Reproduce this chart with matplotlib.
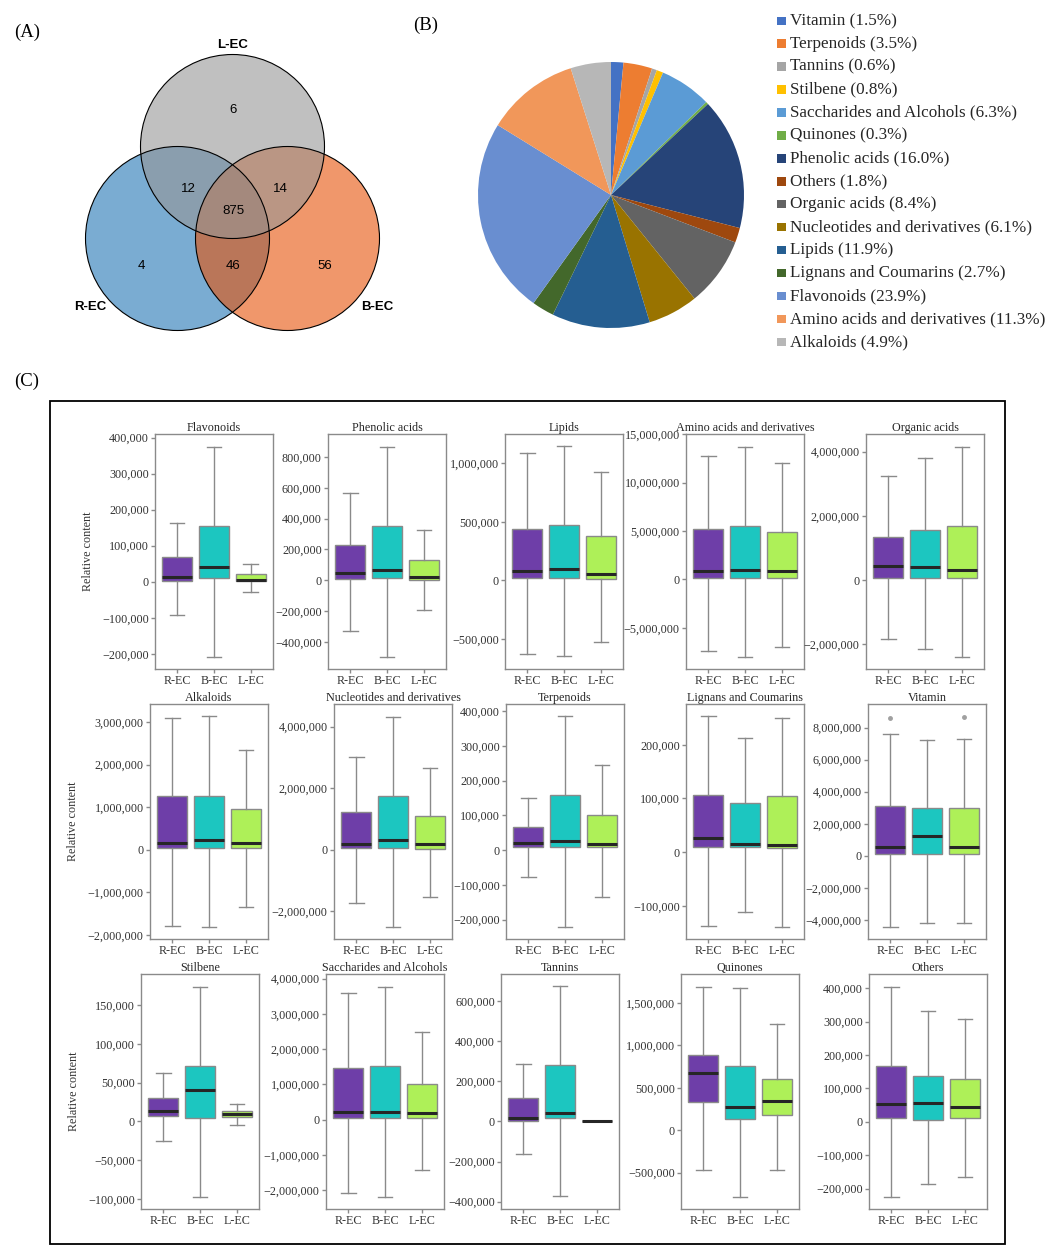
import numpy as np
import matplotlib
matplotlib.use('Agg')
import matplotlib.pyplot as plt
from matplotlib.patches import Circle, Rectangle
from matplotlib.ticker import FuncFormatter, MultipleLocator

# ---------------- data ----------------
venn_names = ['R-EC', 'B-EC', 'L-EC']
venn_regions = ['R', 'B', 'L', 'RL', 'LB', 'RB', 'RBL']
venn_counts = [4, 56, 6, 12, 14, 46, 875]

pie_labels = ['Vitamin', 'Terpenoids', 'Tannins', 'Stilbene', 'Saccharides and Alcohols',
              'Quinones', 'Phenolic acids', 'Others', 'Organic acids',
              'Nucleotides and derivatives', 'Lipids', 'Lignans and Coumarins',
              'Flavonoids', 'Amino acids and derivatives', 'Alkaloids']
pie_pct = [1.5, 3.5, 0.6, 0.8, 6.3, 0.3, 16.0, 1.8, 8.4, 6.1, 11.9, 2.7, 23.9, 11.3, 4.9]
pie_colors = ['#4472C4', '#ED7D31', '#A5A5A5', '#FFC000', '#5B9BD5', '#70AD47', '#264478',
              '#9E480E', '#636363', '#997300', '#255E91', '#43682B', '#698ED0', '#F1975A',
              '#B7B7B7']

groups = ['R-EC', 'B-EC', 'L-EC']
box_classes = ['Flavonoids', 'Phenolic acids', 'Lipids', 'Amino acids and derivatives',
               'Organic acids', 'Alkaloids', 'Nucleotides and derivatives', 'Terpenoids',
               'Lignans and Coumarins', 'Vitamin', 'Stilbene', 'Saccharides and Alcohols',
               'Tannins', 'Quinones', 'Others']
whishi = [[164e3, 375e3, 50e3], [568.6e3, 867e3, 328.6e3], [1088e3, 1145e3, 923e3],
          [12.77e6, 13.70e6, 12.01e6], [3.24e6, 3.80e6, 4.15e6], [3.08e6, 3.13e6, 2.34e6],
          [3.01e6, 4.32e6, 2.66e6], [151e3, 387e3, 244e3], [253e3, 212e3, 249e3],
          [7.59e6, 7.24e6, 7.28e6], [62.6e3, 173e3, 23e3], [3.60e6, 3.76e6, 2.48e6],
          [285e3, 676e3, 0], [1.687e6, 1.675e6, 1.252e6], [404e3, 331e3, 308e3]]
q3 = [[67.6e3, 155.6e3, 21.3e3], [231.4e3, 354.6e3, 131.9e3], [443e3, 472e3, 378e3],
      [5.20e6, 5.54e6, 4.85e6], [1.34e6, 1.57e6, 1.69e6], [1.25e6, 1.27e6, 0.95e6],
      [1.23e6, 1.76e6, 1.09e6], [66e3, 158e3, 102e3], [107e3, 91e3, 104e3],
      [3.08e6, 2.97e6, 2.97e6], [29.6e3, 71.6e3, 13.3e3], [1.47e6, 1.53e6, 1.01e6],
      [116e3, 282e3, 0], [0.881e6, 0.751e6, 0.607e6], [168e3, 136e3, 129e3]]
med = [[13e3, 41.7e3, 5.6e3], [45.4e3, 64.9e3, 23.8e3], [82e3, 97e3, 57e3],
       [0.83e6, 0.96e6, 0.83e6], [0.44e6, 0.42e6, 0.32e6], [0.17e6, 0.22e6, 0.15e6],
       [0.20e6, 0.31e6, 0.20e6], [20e3, 26e3, 19e3], [27e3, 15.5e3, 14e3],
       [0.56e6, 1.21e6, 0.54e6], [14e3, 40.7e3, 9.9e3], [0.21e6, 0.22e6, 0.19e6],
       [18e3, 40e3, 0], [0.673e6, 0.270e6, 0.348e6], [55e3, 56e3, 44e3]]
q1 = [[2.8e3, 10.2e3, 1.9e3], [6.5e3, 17.3e3, 2.2e3], [17e3, 23e3, 14e3],
      [0.14e6, 0.14e6, 0.10e6], [0.06e6, 0.07e6, 0.06e6], [0.04e6, 0.05e6, 0.04e6],
      [0.05e6, 0.05e6, 0.03e6], [9e3, 8e3, 8e3], [10e3, 10e3, 7e3],
      [0.08e6, 0.08e6, 0.10e6], [7.3e3, 3.9e3, 6e3], [0.05e6, 0.05e6, 0.04e6],
      [2e3, 17e3, 0], [0.337e6, 0.137e6, 0.176e6], [11e3, 7e3, 12e3]]
whislo = [[-93.5e3, -208.3e3, -28.7e3], [-328.6e3, -495.1e3, -192.4e3], [-628e3, -648e3, -528e3],
          [-7.43e6, -8.02e6, -7.02e6], [-1.83e6, -2.15e6, -2.39e6], [-1.79e6, -1.81e6, -1.35e6],
          [-1.72e6, -2.50e6, -1.54e6], [-76e3, -220e3, -135e3], [-137e3, -112e3, -139e3],
          [-4.43e6, -4.22e6, -4.22e6], [-25.7e3, -97.7e3, -4.3e3], [-2.09e6, -2.20e6, -1.43e6],
          [-163e3, -373e3, 0], [-0.470e6, -0.787e6, -0.474e6], [-225e3, -187e3, -165e3]]
fliers = {'Vitamin': [[8.59e6], [], [8.67e6]]}

# ---------------- layout ----------------
W, H = 1049, 1246
fig = plt.figure(figsize=(W / 100, H / 100), dpi=100)
SERIF = ['Liberation Serif', 'DejaVu Serif']
SANS = ['Liberation Sans', 'DejaVu Sans']

def px_axes(left, top, width, height, **kw):
    return fig.add_axes([left / W, 1 - (top + height) / H, width / W, height / H], **kw)

ov = px_axes(0, 0, W, H)
ov.set_xlim(0, W)
ov.set_ylim(H, 0)
ov.axis('off')

# panel letters
ov.text(27, 32, '(A)', family=SERIF, fontsize=13.5, ha='center', va='center')
ov.text(426, 25, '(B)', family=SERIF, fontsize=13.5, ha='center', va='center')
ov.text(27, 381, '(C)', family=SERIF, fontsize=13.5, ha='center', va='center')

# ---------------- Venn ----------------
venn_centers = {'R-EC': (177.5, 238.5), 'B-EC': (287.5, 238.5), 'L-EC': (232.5, 146.5)}
venn_fill = {'R-EC': '#2176b4', 'B-EC': '#e65208', 'L-EC': '#969696'}
rad = 92
for n in venn_names:
    ov.add_patch(Circle(venn_centers[n], rad, facecolor=venn_fill[n], alpha=0.6, lw=0))
for n in venn_names:
    ov.add_patch(Circle(venn_centers[n], rad, facecolor='none', edgecolor='black', lw=0.8))
region_pos = {'R': (141, 266), 'B': (325, 266), 'L': (233, 110), 'RL': (188, 189),
              'LB': (280, 189), 'RB': (233, 266), 'RBL': (233, 211)}
for r, c in zip(venn_regions, venn_counts):
    ov.text(*region_pos[r], str(c), family=SANS, fontsize=9.5, ha='center', va='center')
label_pos = {'R-EC': (90, 307), 'B-EC': (377, 307), 'L-EC': (233, 45)}
for n in venn_names:
    ov.text(*label_pos[n], n, family=SANS, fontsize=9.5, fontweight='bold', ha='center', va='center')

# ---------------- Pie ----------------
pax = px_axes(478, 62, 266, 266)
pax.pie(pie_pct, colors=pie_colors, startangle=90, counterclock=False,
        wedgeprops=dict(linewidth=0))
pax.set_xlim(-1, 1)
pax.set_ylim(-1, 1)
pax.set_aspect('auto')
pax.axis('off')

for i, (lab, p, c) in enumerate(zip(pie_labels, pie_pct, pie_colors)):
    y = 21 + i * 22.93
    ov.add_patch(Rectangle((777, y - 4.5), 8.5, 8.5, facecolor=c, lw=0))
    ov.text(790, y, f'{lab} ({p:.1f}%)', family=SERIF, fontsize=12.3, ha='left', va='center',
            color='#262626')

# ---------------- Panel C ----------------
ov.add_patch(Rectangle((50, 401), 955, 843, facecolor='none', edgecolor='black', lw=1.3))

col_left = [[155, 328, 505, 686, 866], [150, 334, 506, 686, 868], [141, 326, 501, 681, 869]]
row_top = [434, 704, 974]
ylims = [(-242e3, 410e3), (-575e3, 949e3), (-756e3, 1250e3), (-9.26e6, 15.02e6), (-2.77e6, 4.55e6),
         (-2.094e6, 3.42e6), (-2.9e6, 4.735e6), (-256e3, 421e3), (-162e3, 276e3), (-5.2e6, 9.48e6),
         (-113e3, 190e3), (-2.54e6, 4.13e6), (-437e3, 736e3), (-928e3, 1.84e6), (-261e3, 443e3)]
ysteps = [100e3, 200e3, 500e3, 5e6, 2e6, 1e6, 2e6, 100e3, 100e3, 2e6, 50e3, 1e6, 200e3, 500e3, 100e3]
box_colors = ['#6E3EA8', '#1CC6C0', '#AEF058']
GRAY = '#8a8a8a'

fmt = FuncFormatter(lambda v, p: ('0' if abs(v) < 1e-6 else f'{v:,.0f}').replace('-', '\u2212'))

for k, cls in enumerate(box_classes):
    r, c = divmod(k, 5)
    ax = px_axes(col_left[r][c], row_top[r], 118, 235)
    stats = []
    for j, g in enumerate(groups):
        stats.append(dict(med=med[k][j], q1=q1[k][j], q3=q3[k][j], whislo=whislo[k][j],
                          whishi=whishi[k][j], fliers=fliers.get(cls, [[], [], []])[j], label=g))
    bp = ax.bxp(stats, positions=[0, 1, 2], widths=0.8, patch_artist=True, showfliers=True,
                capwidths=0.4,
                boxprops=dict(edgecolor=GRAY, lw=1),
                medianprops=dict(color='#262626', lw=2.2),
                whiskerprops=dict(color=GRAY, lw=1),
                capprops=dict(color=GRAY, lw=1),
                flierprops=dict(marker='o', markersize=2.5, markerfacecolor='#a0a0a0',
                                markeredgecolor='#a0a0a0'))
    for patch, col in zip(bp['boxes'], box_colors):
        patch.set_facecolor(col)
    ax.set_xlim(-0.6, 2.6)
    ax.set_ylim(*ylims[k])
    ax.yaxis.set_major_locator(MultipleLocator(ysteps[k]))
    ax.yaxis.set_major_formatter(fmt)
    ax.set_xticks([0, 1, 2])
    ax.set_xticklabels(groups)
    for s in ax.spines.values():
        s.set_color(GRAY)
        s.set_linewidth(1)
    ax.tick_params(axis='both', colors=GRAY, length=3, width=1, direction='out',
                   labelcolor='#333333', labelsize=8.7, pad=1.5)
    for t in ax.get_xticklabels() + ax.get_yticklabels():
        t.set_family(SERIF)
    ax.set_title(cls, family=SERIF, fontsize=8.7, pad=1.5, color='#262626')
    if c == 0:
        ax.set_ylabel('Relative content', family=SERIF, fontsize=8.7, color='#333333', labelpad=6)

fig.savefig('out.png', dpi=100)
